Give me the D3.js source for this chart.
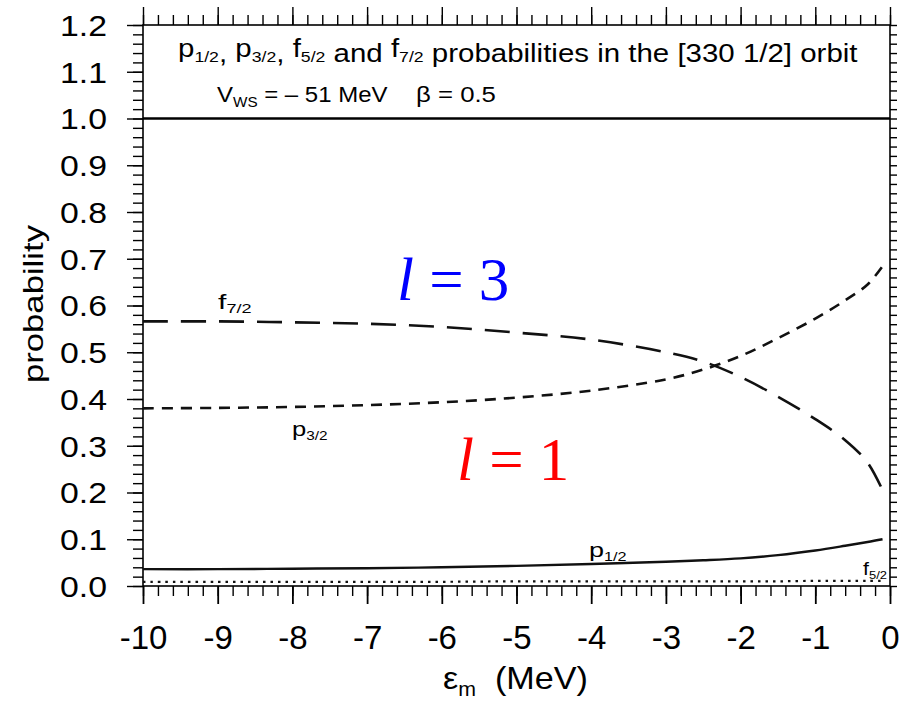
<!DOCTYPE html>
<html>
<head>
<meta charset="utf-8">
<script src="https://cdn.jsdelivr.net/npm/d3@7"></script>
<style>
  html, body { margin: 0; padding: 0; background: #fff; }
  svg { display: block; }
  text { font-family: "Liberation Sans", Arial, Helvetica, sans-serif; fill: #000; }
</style>
</head>
<body>
<svg id="chart" width="913" height="701"></svg>
<script>
// ---- data ----
const energies = [-10, -9, -8, -7, -6, -5, -4, -3, -2.5, -2, -1.5, -1, -0.6, -0.3, -0.1];
const f72 = [0.566, 0.566, 0.564, 0.561, 0.554, 0.542, 0.527, 0.500, 0.480, 0.447, 0.405, 0.357, 0.312, 0.264, 0.205];
const p32 = [0.380, 0.381, 0.383, 0.387, 0.393, 0.403, 0.418, 0.442, 0.463, 0.492, 0.530, 0.572, 0.611, 0.645, 0.684];
const p12 = [0.036, 0.036, 0.037, 0.038, 0.040, 0.043, 0.047, 0.052, 0.055, 0.059, 0.066, 0.076, 0.086, 0.094, 0.100];
const f52 = [0.009, 0.009, 0.009, 0.009, 0.009, 0.010, 0.010, 0.010, 0.010, 0.010, 0.010, 0.011, 0.011, 0.011, 0.011];
const xTickValues = [-10, -9, -8, -7, -6, -5, -4, -3, -2, -1, 0];
const yTickValues = [0, 0.1, 0.2, 0.3, 0.4, 0.5, 0.6, 0.7, 0.8, 0.9, 1.0, 1.1, 1.2];
const xTitle = ["ε", "m", "(MeV)"];
const yTitle = "probability";

const svg = d3.select("#chart");
const x = d3.scaleLinear().domain([-10, 0]).range([143, 890]);
const y = d3.scaleLinear().domain([0, 1.2]).range([586, 25]);

const xMinor = d3.range(-10, 0.001, 0.2).map(v => +v.toFixed(2));
const yMinor = d3.range(0, 1.2001, 0.02).map(v => +v.toFixed(3));

function styleAxis(g) {
  g.select(".domain").remove();
  g.selectAll(".tick line").attr("stroke", "#000").attr("stroke-width", 1.4);
}

// bottom axis
svg.append("g").attr("transform", `translate(0,${y(0)})`)
  .call(d3.axisBottom(x).tickValues(xMinor).tickSize(10).tickFormat(""))
  .call(styleAxis);
const bx = svg.append("g").attr("transform", `translate(0,${y(0)})`)
  .call(d3.axisBottom(x).tickValues(xTickValues).tickSize(18).tickFormat(d => String(d)))
  .call(styleAxis);
bx.selectAll(".tick line").attr("stroke-width", 1.8);
bx.selectAll(".tick text").attr("y", 63).attr("dy", 0)
  .style("font-size", "33px").attr("fill", "#111");

// top axis
svg.append("g").attr("transform", `translate(0,${y(1.2)})`)
  .call(d3.axisTop(x).tickValues(xMinor).tickSize(10).tickFormat(""))
  .call(styleAxis);
svg.append("g").attr("transform", `translate(0,${y(1.2)})`)
  .call(d3.axisTop(x).tickValues(xTickValues).tickSize(18).tickFormat(""))
  .call(styleAxis);

// left axis
svg.append("g").attr("transform", `translate(${x(-10)},0)`)
  .call(d3.axisLeft(y).tickValues(yMinor).tickSize(10).tickFormat(""))
  .call(styleAxis);
const ly = svg.append("g").attr("transform", `translate(${x(-10)},0)`)
  .call(d3.axisLeft(y).tickValues(yTickValues).tickSize(16).tickFormat(d3.format(".1f")))
  .call(styleAxis);
ly.selectAll(".tick text").attr("x", -36).attr("dy", "0.36em")
  .style("font-size", "29px").attr("fill", "#111")
  .attr("textLength", 47).attr("lengthAdjust", "spacingAndGlyphs");

// right axis
svg.append("g").attr("transform", `translate(${x(0)},0)`)
  .call(d3.axisRight(y).tickValues(yMinor).tickSize(7).tickFormat(""))
  .call(styleAxis);

// frame
svg.append("rect").attr("x", x(-10)).attr("y", y(1.2))
  .attr("width", x(0) - x(-10)).attr("height", y(0) - y(1.2))
  .attr("fill", "none").attr("stroke", "#000").attr("stroke-width", 1.6);
svg.append("line").attr("x1", x(-10)).attr("x2", x(0)).attr("y1", y(1.0)).attr("y2", y(1.0))
  .attr("stroke", "#000").attr("stroke-width", 2.4);

// curves
const line = d3.line().x(d => x(d[0])).y(d => y(d[1])).curve(d3.curveCatmullRom.alpha(0.5));
function series(vals) { return energies.map((e, i) => [e, vals[i]]); }
const curves = [
  { v: f72, dash: "25,13", w: 2.6 },
  { v: p32, dash: "11,8", w: 2.6 },
  { v: p12, dash: null, w: 2.4 },
  { v: f52, dash: "2.5,5", w: 2.2 }
];
curves.forEach(c => {
  svg.append("path").datum(series(c.v)).attr("d", line)
    .attr("fill", "none").attr("stroke", "#111").attr("stroke-width", c.w)
    .attr("stroke-dasharray", c.dash);
});

// fit a text group horizontally between x0 and x1 at a baseline
function fit(t, x0, x1, base) {
  const w = t.node().getBBox().width;
  t.attr("transform", `translate(${x0},${base}) scale(${(x1 - x0) / w},1)`);
}
function subLabel(parent, main, sub, size, subSize, dy) {
  const t = parent.append("text").attr("x", 0).attr("y", 0).style("font-size", size + "px");
  t.append("tspan").text(main);
  t.append("tspan").attr("dy", dy).style("font-size", subSize + "px").text(sub);
  return t;
}

// curve labels
fit(subLabel(svg, "f", "7/2", 20, 12, 4), 218, 252, 309);
fit(subLabel(svg, "p", "3/2", 20, 12, 4), 292, 328, 436);
fit(subLabel(svg, "p", "1/2", 20, 12, 4), 589, 627, 557);
fit(subLabel(svg, "f", "5/2", 18, 11, 4), 863, 887, 575);

// title line 1
const t1 = svg.append("text").style("font-size", "25px");
const parts = [["p", "1/2"], ["p", "3/2"], ["f", "5/2"], ["f", "7/2"]];
const seps = [", ", ", ", " and ", " probabilities in the [330 1/2] orbit"];
parts.forEach((p, i) => {
  t1.append("tspan").attr("dy", i === 0 ? 0 : -5).text(p[0]);
  t1.append("tspan").attr("dy", 5).style("font-size", "15px").text(p[1]);
  t1.append("tspan").attr("dy", 0).text(seps[i]);
});
fit(t1, 178, 858, 57);

// title line 2
const t2 = svg.append("text").style("font-size", "22px");
t2.append("tspan").text("V");
t2.append("tspan").attr("dy", 5).style("font-size", "14px").text("WS");
t2.append("tspan").attr("dy", -5).text(" = – 51 MeV");
fit(t2, 217, 388, 102);
const t3 = svg.append("text").style("font-size", "22px").text("β = 0.5");
fit(t3, 416, 496, 102);

// axis titles
const xt = svg.append("text").style("font-size", "32px");
xt.append("tspan").text(xTitle[0]);
xt.append("tspan").attr("dy", 7).style("font-size", "20px").text(xTitle[1]);
xt.append("tspan").attr("dy", -7).text("  " + xTitle[2]);
xt.attr("xml:space", "preserve");
fit(xt, 443, 588, 689);

svg.append("text").attr("transform", "translate(43,304) rotate(-90)")
  .attr("text-anchor", "middle").style("font-size", "28px")
  .attr("textLength", 158).attr("lengthAdjust", "spacingAndGlyphs")
  .text(yTitle);

// l = 3 and l = 1 annotations
function lLabel(num, color, x0, base) {
  const t = svg.append("text").attr("x", x0).attr("y", base)
    .style("font-family", "'Liberation Serif', 'Times New Roman', serif")
    .style("font-size", "61px").attr("fill", color).attr("xml:space", "preserve");
  t.append("tspan").style("font-style", "italic").attr("fill", color).text("l");
  t.append("tspan").attr("fill", color).text(" = " + num);
}
lLabel("3", "#0000ff", 397, 300);
lLabel("1", "#ff0000", 457, 480);
</script>
</body>
</html>
